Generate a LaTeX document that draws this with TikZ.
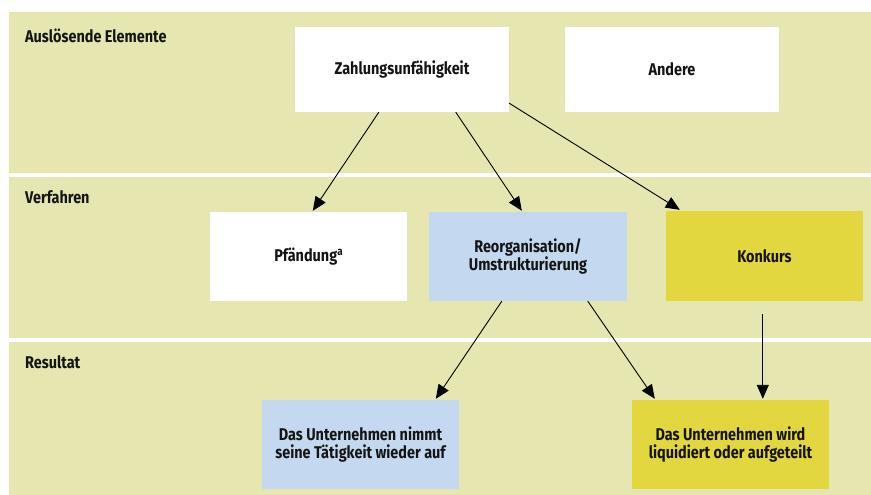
\documentclass[tikz,border=0pt]{standalone}
\usepackage{fontspec}
\setmainfont{Fira Sans}[FakeStretch=0.85]
\usetikzlibrary{arrows.meta,calc}
\definecolor{band}{RGB}{230,230,176}
\definecolor{bluebox}{RGB}{196,217,240}
\definecolor{yellowbox}{RGB}{227,215,63}
\definecolor{txt}{RGB}{20,20,20}
\newcommand{\supa}{\raisebox{0.62ex}{\fontsize{11.5}{11.5}\selectfont a}}
\begin{document}
\begin{tikzpicture}[x=1pt,y=-1pt,
  every node/.style={font=\fontsize{17}{18}\selectfont\bfseries, text=txt},
  bandlabel/.style={anchor=west, inner sep=0pt},
  box/.style={minimum width=197pt, minimum height=89pt, inner sep=0pt, align=center, draw=none},
  whitebox/.style={box, fill=white},
  bluefill/.style={box, fill=bluebox},
  yellowfill/.style={box, fill=yellowbox},
  arr/.style={draw=black, line width=0.9pt, -{Triangle[length=14pt,width=12pt]}}
]
\useasboundingbox (0,0) rectangle (871,495);
\fill[white] (0,0) rectangle (871,495);
% bands
\fill[band] (9,12) rectangle (871,173);
\fill[band] (9,177) rectangle (871,338);
\fill[band] (9,342) rectangle (871,495);
% band labels
\node[bandlabel] (l1) at (25,36) {Auslösende Elemente};
\node[bandlabel] (l2) at (25,197) {Verfahren};
\node[bandlabel] (l3) at (25,362) {Resultat};
% boxes
\node[whitebox, minimum width=214pt, minimum height=85pt] (z) at (402,69.5) {Zahlungsunfähigkeit};
\node[whitebox, minimum width=214pt, minimum height=85pt] (an) at (672,69.5) {Andere};
\node[whitebox] (pf) at (308.5,256.5) {Pfändung\supa};
\node[bluefill, minimum width=198pt] (re) at (528,256.5) {Reorganisation/\\Umstrukturierung};
\node[yellowfill, minimum height=90pt] (ko) at (764.5,256) {Konkurs};
\node[bluefill] (ni) at (360.5,444.5) {Das Unternehmen nimmt\\seine Tätigkeit wieder auf};
\node[yellowfill] (wi) at (730.5,444.5) {Das Unternehmen wird\\liquidiert oder aufgeteilt};
\coordinate (kostart) at ($(ko.south west)+(97,13)$);
% arrows
\draw[arr] ($(z.south west)+(84,0)$) -- ($(pf.north west)+(103,-1)$);
\draw[arr] ($(z.south west)+(161,0)$) -- ($(re.north west)+(93,-1)$);
\draw[arr] ($(z.south east)+(0,-9)$) -- ($(ko.north west)+(14,-1)$);
\draw[arr] ($(re.south west)+(73,0)$) -- ($(ni.north west)+(174,-1)$);
\draw[arr] ($(re.south west)+(159,0)$) -- ($(wi.north west)+(23,-1)$);
\draw[arr] (kostart) -- ($(wi.north west)+(131,-1)$);
\end{tikzpicture}
\end{document}
